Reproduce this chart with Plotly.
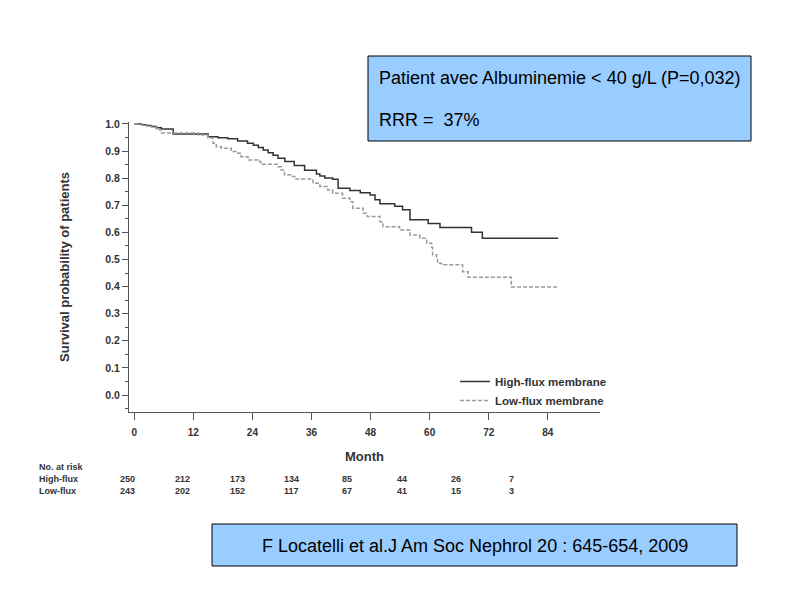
import plotly.graph_objects as go

# ---- data ----
high_t = [0, 1.5, 2.5, 3.5, 4.5, 5.5, 7.9, 15.0, 17.0, 19.0, 21.0, 23.0, 24.2, 25.2, 26.2,
          27.2, 28.2, 29.2, 30.6, 32.5, 34.6, 37.0, 37.7, 38.7, 40.3, 41.4, 43.8, 45.9,
          47.9, 48.9, 49.9, 52.9, 54.5, 56.0, 59.7, 62.1, 68.5, 70.7, 86.1]
high_s = [1.0, 0.997, 0.994, 0.990, 0.986, 0.981, 0.963, 0.953, 0.949, 0.945, 0.937, 0.929,
          0.921, 0.913, 0.904, 0.894, 0.884, 0.873, 0.861, 0.847, 0.829, 0.815, 0.808, 0.800,
          0.796, 0.763, 0.754, 0.746, 0.738, 0.720, 0.705, 0.696, 0.683, 0.646, 0.633, 0.618,
          0.600, 0.578, 0.578]

low_t = [0, 1.5, 2.5, 3.5, 4.5, 5.5, 13.0, 15.0, 16.0, 16.65, 17.7, 19.7, 21.05, 21.7, 23.1,
         25.1, 25.7, 29.2, 29.85, 30.5, 31.9, 32.6, 36.3, 37.7, 39.3, 40.3, 42.3, 43.8, 44.4,
         46.5, 47.3, 49.9, 50.5, 53.9, 56.0, 58.0, 59.4, 60.4, 60.6, 61.4, 61.6, 62.4, 66.7,
         67.8, 76.6, 86.1]
low_s = [1.0, 0.996, 0.992, 0.988, 0.978, 0.966, 0.959, 0.948, 0.929, 0.916, 0.910, 0.898,
         0.892, 0.879, 0.867, 0.861, 0.851, 0.842, 0.830, 0.812, 0.806, 0.797, 0.781, 0.769,
         0.756, 0.744, 0.726, 0.713, 0.689, 0.670, 0.658, 0.639, 0.621, 0.609, 0.590, 0.578,
         0.560, 0.545, 0.517, 0.504, 0.486, 0.480, 0.455, 0.434, 0.398, 0.398]

x_ticks = [0, 12, 24, 36, 48, 60, 72, 84]
y_ticks = [0.0, 0.1, 0.2, 0.3, 0.4, 0.5, 0.6, 0.7, 0.8, 0.9, 1.0]
risk_high = [250, 212, 173, 134, 85, 44, 26, 7]
risk_low = [243, 202, 152, 117, 67, 41, 15, 3]
series_names = ["High-flux membrane", "Low-flux membrane"]
risk_labels = ["No. at risk", "High-flux", "Low-flux"]
box_top_lines = ["Patient avec Albuminemie &lt; 40 g/L (P=0,032)", "RRR =  37%"]
box_bottom_text = "F Locatelli et al.J Am Soc Nephrol 20 : 645-654, 2009"

# ---- layout geometry (pixels as seen in the 794x595 reference) ----
OFF = 8  # page body margin
W, H = 794 - OFF, 595 - OFF
PL, PR, PT, PB = 129, 600, 122, 412


def px(x):
    return (x - PL) / (PR - PL)


def py(y):
    return (PB - y) / (PB - PT)


fig = go.Figure()
fig.add_trace(go.Scatter(x=high_t, y=high_s, mode="lines", line_shape="hv",
                         name=series_names[0], line=dict(color="#333333", width=1.5)))
fig.add_trace(go.Scatter(x=low_t, y=low_s, mode="lines", line_shape="hv",
                         name=series_names[1],
                         line=dict(color="#9a9a9a", width=1.5, dash="4px,2px")))

bold = dict(family="Arial, Liberation Sans, sans-serif", color="#333333", weight="bold")
plain = dict(family="Arial, Liberation Sans, sans-serif", color="black")

fig.update_layout(
    width=W, height=H,
    margin=dict(l=PL - OFF, r=794 - PR, t=PT - OFF, b=595 - PB, pad=0),
    paper_bgcolor="white", plot_bgcolor="white",
    showlegend=True,
    legend=dict(x=px(455), y=py(367), xanchor="left", yanchor="top",
                font=dict(size=11.5, **bold), bgcolor="rgba(0,0,0,0)",
                tracegroupgap=0, itemwidth=30),
    xaxis=dict(range=[-1.07, 94.6], tickvals=x_ticks, ticktext=[str(v) for v in x_ticks],
               showgrid=False, zeroline=False, showline=True, linecolor="#555555",
               linewidth=1.2, ticks="outside", ticklen=7, tickcolor="#555555",
               tickfont=dict(size=10, **bold), ticklabelstandoff=4,
               title=dict(text="Month", font=dict(size=13, **bold), standoff=14)),
    yaxis=dict(range=[-0.0627, 1.007], tickvals=y_ticks,
               ticktext=[f"{v:.1f}" for v in y_ticks],
               showgrid=False, zeroline=False, showline=True, linecolor="#555555",
               linewidth=1.2, ticks="outside", ticklen=6, tickcolor="#555555",
               tickfont=dict(size=10.5, **bold),
               minor=dict(dtick=0.05, tick0=0, ticks="outside", ticklen=3,
                          tickcolor="#555555", showgrid=False),
               title=dict(text="Survival probability of patients",
                          font=dict(size=13, **bold), standoff=32)),
)

# top info box
fig.add_shape(type="rect", xref="paper", yref="paper",
              x0=px(368), x1=px(751), y0=py(141), y1=py(56),
              fillcolor="#99ccff", line=dict(color="black", width=1), layer="below")
for txt, yy in zip(box_top_lines, [78, 120]):
    fig.add_annotation(xref="paper", yref="paper", x=px(377), y=py(yy), text=txt,
                       showarrow=False, xanchor="left", yanchor="middle",
                       font=dict(size=18, **plain))

# bottom reference box
fig.add_shape(type="rect", xref="paper", yref="paper",
              x0=px(212), x1=px(737), y0=py(566), y1=py(524),
              fillcolor="#99ccff", line=dict(color="black", width=1), layer="below")
fig.add_annotation(xref="paper", yref="paper", x=px(474.5), y=py(546), text=box_bottom_text,
                   showarrow=False, xanchor="center", yanchor="middle",
                   font=dict(size=18, **plain))

# number-at-risk table
for lab, yy in zip(risk_labels, [467, 479, 491]):
    fig.add_annotation(xref="paper", yref="paper", x=px(37), y=py(yy), text=lab,
                       showarrow=False, xanchor="left", yanchor="middle",
                       font=dict(size=9, **bold))
for i, (a, b) in enumerate(zip(risk_high, risk_low)):
    xc = px(127.5 + 54.8 * i)
    for val, yy in ((a, 479), (b, 491)):
        fig.add_annotation(xref="paper", yref="paper", x=xc, y=py(yy), text=str(val),
                           showarrow=False, xanchor="center", yanchor="middle",
                           font=dict(size=9, **bold))

fig.write_html("out.html")
